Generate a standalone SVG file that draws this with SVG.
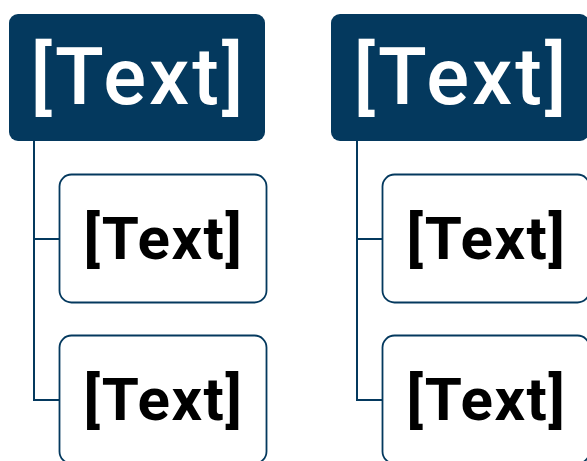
<svg xmlns="http://www.w3.org/2000/svg" width="587" height="461" viewBox="0 0 587 461">
<style>
.hdr{fill:#04395e}
.box{fill:#fff;stroke:#04395e;stroke-width:1.8}
.ht{font-family:Roboto,"Noto Sans",sans-serif;font-size:80px;font-weight:500;fill:#fff;text-anchor:middle;letter-spacing:3px}
.ct{font-family:Roboto,"Noto Sans",sans-serif;font-size:60px;font-weight:bold;fill:#000;text-anchor:middle;letter-spacing:1.5px}
.con{fill:none;stroke:#04395e;stroke-width:2}
</style>
<rect width="587" height="461" fill="#fff"/>
<g id="connectors">
<path class="con" d="M34 141V400H59M34 239H59"/>
<path class="con" d="M357 141V400H382M357 239H382"/>
</g>
<g id="h1"><rect class="hdr" x="9" y="14" width="256" height="127" rx="9"/><text class="ht" x="138.5" y="104">[Text]</text></g>
<g id="c1"><rect class="box" x="59.5" y="174.5" width="207" height="128" rx="12"/><text class="ct" x="163.5" y="259">[Text]</text></g>
<g id="c2"><rect class="box" x="59.5" y="335.5" width="207" height="128" rx="12"/><text class="ct" x="163.5" y="420">[Text]</text></g>
<g id="h2"><rect class="hdr" x="331" y="14" width="258" height="127" rx="9"/><text class="ht" x="461.5" y="104">[Text]</text></g>
<g id="c3"><rect class="box" x="382.5" y="174.5" width="207" height="128" rx="12"/><text class="ct" x="486.5" y="259">[Text]</text></g>
<g id="c4"><rect class="box" x="382.5" y="335.5" width="207" height="128" rx="12"/><text class="ct" x="486.5" y="420">[Text]</text></g>
</svg>
